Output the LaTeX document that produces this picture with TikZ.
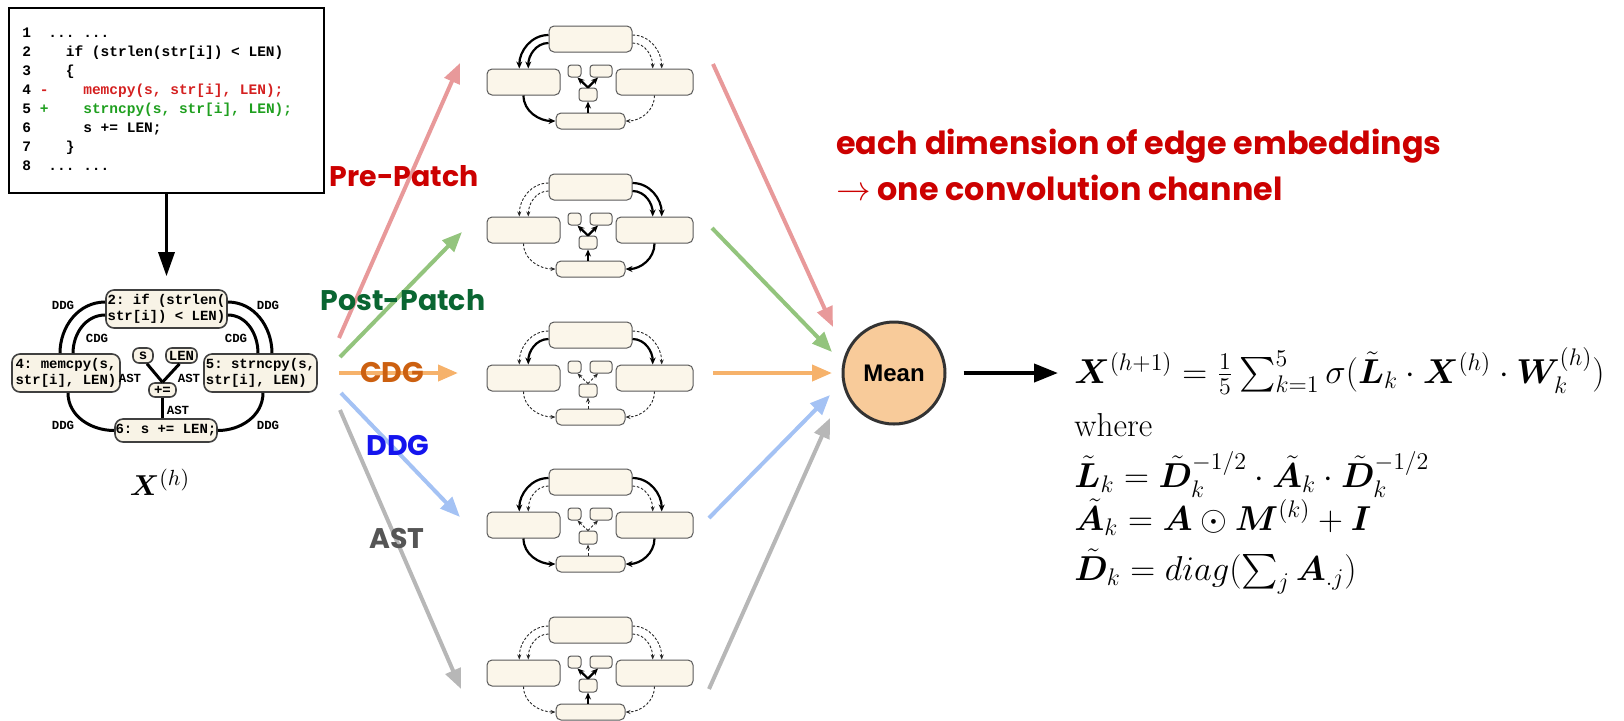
\documentclass[tikz,border=0pt]{standalone}
\usepackage{amsmath}
\usepackage{bm}
\usepackage{fontspec}
\usetikzlibrary{arrows.meta}
\newfontfamily\comic{Poppins}
\newfontfamily\codef{Liberation Mono}
\newfontfamily\arialf{Liberation Sans}
\definecolor{cream}{HTML}{F8F3E6}
\definecolor{scream}{HTML}{FBF6EA}
\definecolor{redT}{HTML}{CC0000}
\definecolor{greenT}{HTML}{0A6632}
\definecolor{orangeT}{HTML}{CC6010}
\definecolor{blueT}{HTML}{1414EE}
\definecolor{grayT}{HTML}{555555}
\definecolor{redA}{HTML}{E8999A}
\definecolor{greenA}{HTML}{93C47D}
\definecolor{orangeA}{HTML}{F6B26B}
\definecolor{blueA}{HTML}{A4C2F4}
\definecolor{grayA}{HTML}{B7B7B7}
\definecolor{meanF}{HTML}{F8CB9A}
\definecolor{codeR}{HTML}{D42020}
\definecolor{codeG}{HTML}{1F9F1F}
\newcommand\smallgraph[9]{%
 \begin{scope}[shift={(0,#2)}]
  \node[smn, minimum width=41.5pt, minimum height=13pt] (#1T) at (590.5,39) {};
  \node[smn, minimum width=36.5pt, minimum height=13pt] (#1L) at (523.5,82) {};
  \node[smn, minimum width=38.5pt, minimum height=13pt] (#1R) at (654.5,82) {};
  \node[smn, minimum width=34.5pt, minimum height=8pt] (#1B) at (590.5,121) {};
  \node[smt, minimum width=6.5pt, minimum height=6pt] (#1S) at (574.5,71) {};
  \node[smt, minimum width=11pt, minimum height=6pt] (#1N) at (601,71) {};
  \node[smt, minimum width=9pt, minimum height=6.5pt] (#1P) at (588,94.5) {};
  \draw[#3] ([yshift=2pt]#1T.west) to[out=180,in=90] ([xshift=-2.1pt]#1L.north);
  \draw[#4] ([yshift=-2pt]#1T.west) to[out=180,in=90] ([xshift=2.4pt]#1L.north);
  \draw[#5] ([yshift=2pt]#1T.east) to[out=0,in=90] ([xshift=3.6pt]#1R.north);
  \draw[#6] ([yshift=-2pt]#1T.east) to[out=0,in=90] ([xshift=-0.9pt]#1R.north);
  \draw[#7] (#1L.south) to[out=-90,in=180] (#1B.west);
  \draw[#8] (#1R.south) to[out=-90,in=0] (#1B.east);
  \draw[#9] (#1B.north -| #1P.south) -- (#1P.south);
  \draw[#9] (#1P.north) -- ([xshift=1.5pt]#1S.south);
  \draw[#9] (#1P.north) -- ([xshift=-1.5pt]#1N.south);
 \end{scope}}
\begin{document}
\begin{tikzpicture}[x=0.5pt,y=-0.5pt,
  bign/.style={draw=black!75, fill=cream, rounded corners=4pt, line width=0.8pt, inner sep=0pt, font=\codef\bfseries\fontsize{7}{8}\selectfont, align=left},
  smn/.style={draw=black!65, fill=scream, rounded corners=2.5pt, line width=0.5pt, inner sep=0pt},
  smt/.style={draw=black!65, fill=scream, rounded corners=1.5pt, line width=0.5pt, inner sep=0pt},
  bge/.style={line width=1.5pt, black},
  elab/.style={font=\codef\bfseries\fontsize{6.2}{7}\selectfont, inner sep=0pt},
  eS/.style={line width=1.1pt, black, -{Stealth[length=3.5pt,width=3pt]}},
  eD/.style={line width=0.45pt, black!85, dash pattern=on 1.3pt off 0.9pt, -{Stealth[length=2.5pt,width=2pt]}},
  codeln/.style={anchor=base west, inner sep=0pt, font=\codef\bfseries\fontsize{7.25}{8}\selectfont},
  fan/.style={line width=2pt, -{Triangle[length=10pt,width=8pt]}},
  lab/.style={font=\comic\bfseries\fontsize{14.2}{17}\selectfont, inner sep=0pt},
  frm/.style={anchor=base west, inner sep=0pt, font=\fontsize{16.6}{20}\selectfont},
  redtxt/.style={anchor=west, inner sep=0pt, text=redT, font=\comic\bfseries\fontsize{15.9}{19}\selectfont}
]
\useasboundingbox (0,0) rectangle (1624,720);

% code box
\node[draw=black, line width=1pt, minimum width=157.5pt, minimum height=92.5pt, anchor=north west, inner sep=0pt] (code) at (8,7) {};
\node[codeln] (c1) at (22,37.5) {1~~...~...};
\node[codeln] (c2) at (22,56.5) {2~~~~if~(strlen(str[i])~<~LEN)};
\node[codeln] (c3) at (22,75.5) {3~~~~\{};
\node[codeln] (c4) at (22,94.5) {4~\textcolor{codeR}{-~~~~memcpy(s,~str[i],~LEN);}};
\node[codeln] (c5) at (22,113.5) {5~\textcolor{codeG}{+~~~~strncpy(s,~str[i],~LEN);}};
\node[codeln] (c6) at (22,132.5) {6~~~~~~s~+=~LEN;};
\node[codeln] (c7) at (22,151.5) {7~~~~\}};
\node[codeln] (c8) at (22,170.5) {8~~...~...};

% big graph
\node[bign, minimum width=60.5pt, minimum height=19pt] (N2) at (166.5,309) {2:~if~(strlen(\\str[i])~<~LEN)};
\node[bign, minimum width=54pt, minimum height=19pt] (N4) at (66,373) {4:~memcpy(s,\\str[i],~LEN)};
\node[bign, minimum width=56.5pt, minimum height=19pt] (N5) at (260.5,373) {5:~strncpy(s,\\str[i],~LEN)};
\node[bign, minimum width=51pt, minimum height=11.5pt] (N6) at (166,430.5) {6:~s~+=~LEN;};
\node[bign, rounded corners=3pt, minimum width=10pt, minimum height=7.5pt] (S) at (143,355.5) {s};
\node[bign, rounded corners=3pt, minimum width=15.5pt, minimum height=7.5pt] (LEN) at (181.5,355.5) {LEN};
\node[bign, rounded corners=3pt, minimum width=13.5pt, minimum height=7pt] (PL) at (162.5,390) {+=};

\draw[-{Triangle[length=12pt,width=8pt]}, line width=1.6pt, shorten >=6.5pt] (code.south) -- (N2.north);

\draw[bge] ([yshift=3.5pt]N2.west) to[out=180,in=90] ([xshift=-3pt]N4.north);
\draw[bge] ([yshift=-3pt]N2.west) to[out=180,in=90] ([xshift=3.5pt]N4.north);
\draw[bge] ([yshift=3.5pt]N2.east) to[out=0,in=90] ([xshift=5.75pt]N5.north);
\draw[bge] ([yshift=-3pt]N2.east) to[out=0,in=90] ([xshift=-1.25pt]N5.north);
\draw[bge] ([xshift=1pt]N4.south) to[out=-90,in=180] (N6.west);
\draw[bge] ([xshift=1.25pt]N5.south) to[out=-90,in=0] (N6.east);
\draw[bge] ([xshift=2pt]S.south) -- (PL.north);
\draw[bge] ([xshift=-1pt]LEN.south) -- (PL.north);
\draw[bge] (PL.south) -- (PL.south |- N6.north);

\node[elab] (l1) at (63,305) {DDG};
\node[elab] (l2) at (268,305) {DDG};
\node[elab] (l3) at (97,338) {CDG};
\node[elab] (l4) at (236,338) {CDG};
\node[elab] (l5) at (130,378) {AST};
\node[elab] (l6) at (189,378) {AST};
\node[elab] (l7) at (178,410) {AST};
\node[elab] (l8) at (63,425) {DDG};
\node[elab] (l9) at (268,425) {DDG};

\node[font=\fontsize{15}{18}\selectfont, inner sep=0pt] (xh) at (160,482) {$\bm{X}^{(h)}$};

% small graphs
\smallgraph{g1}{0}{eS}{eS}{eD}{eD}{eS}{eD}{eS}
\smallgraph{g2}{148}{eD}{eD}{eS}{eS}{eD}{eS}{eS}
\smallgraph{g3}{296}{eD}{eS}{eD}{eS}{eD}{eD}{eD}
\smallgraph{g4}{443}{eS}{eD}{eS}{eD}{eS}{eS}{eD}
\smallgraph{g5}{591}{eD}{eD}{eD}{eD}{eD}{eD}{eS}

% fan
\coordinate (s1) at (339,338); \coordinate (e1) at (460,63);
\coordinate (s2) at (340,357); \coordinate (e2) at (462,232);
\coordinate (s3) at (339,373); \coordinate (e3) at (458,373);
\coordinate (s4) at (341,393); \coordinate (e4) at (460,517);
\coordinate (s5) at (340,410); \coordinate (e5) at (461,689);
\draw[fan, redA] (s1) -- (e1);
\draw[fan, greenA] (s2) -- (e2);
\draw[fan, orangeA] (s3) -- (e3);
\draw[fan, blueA] (s4) -- (e4);
\draw[fan, grayA] (s5) -- (e5);

\node[lab, text=redT] (tpre) at (404,176) {Pre-Patch};
\node[lab, text=greenT] (tpost) at (403,300) {Post-Patch};
\node[lab, text=orangeT] (tcdg) at (392,372) {CDG};
\node[lab, text=blueT] (tddg) at (398,445) {DDG};
\node[lab, text=grayT] (tast) at (397,538) {AST};

% mean
\node[circle, draw=black!80, line width=1.5pt, fill=meanF, minimum size=51pt, inner sep=0pt, font=\arialf\bfseries\fontsize{12}{14}\selectfont] (mean) at (894,373) {Mean};
\coordinate (r1) at (713,64); \coordinate (m1) at (833,327);
\coordinate (r2) at (712,228); \coordinate (m2) at (832,352);
\coordinate (r3) at (713,373); \coordinate (m3) at (832,373);
\coordinate (r4) at (709,518); \coordinate (m4) at (830,395);
\coordinate (r5) at (709,689); \coordinate (m5) at (830,418);
\draw[fan, redA] (r1) -- (m1);
\draw[fan, greenA] (r2) -- (m2);
\draw[fan, orangeA] (r3) -- (m3);
\draw[fan, blueA] (r4) -- (m4);
\draw[fan, grayA] (r5) -- (m5);

\coordinate (fin) at (1058,373);
\draw[line width=2pt, -{Triangle[length=12pt,width=9pt]}] ([xshift=8.5pt]mean.east) -- (fin);

% red text
\node[redtxt] (t1) at (836,146) {each dimension of edge embeddings};
\node[redtxt] (t2) at (836,188) {$\rightarrow$ one convolution channel};

% formulas
\node[frm] (f1) at (1074,383) {$\bm{X}^{(h+1)} = \frac{1}{5}\sum_{k=1}^{5}\sigma(\tilde{\bm{L}}_k\cdot\bm{X}^{(h)}\cdot\bm{W}_k^{(h)})$};
\node[frm] (f2) at (1074,436) {where};
\node[frm] (f3) at (1074,487) {$\tilde{\bm{L}}_k = \tilde{\bm{D}}_k^{-1/2}\cdot\tilde{\bm{A}}_k\cdot\tilde{\bm{D}}_k^{-1/2}$};
\node[frm] (f4) at (1074,530) {$\tilde{\bm{A}}_k = \bm{A}\odot\bm{M}^{(k)} + \bm{I}$};
\node[frm] (f5) at (1074,580) {$\tilde{\bm{D}}_k = diag(\sum_j \bm{A}_{.j})$};
\end{tikzpicture}
\end{document}
